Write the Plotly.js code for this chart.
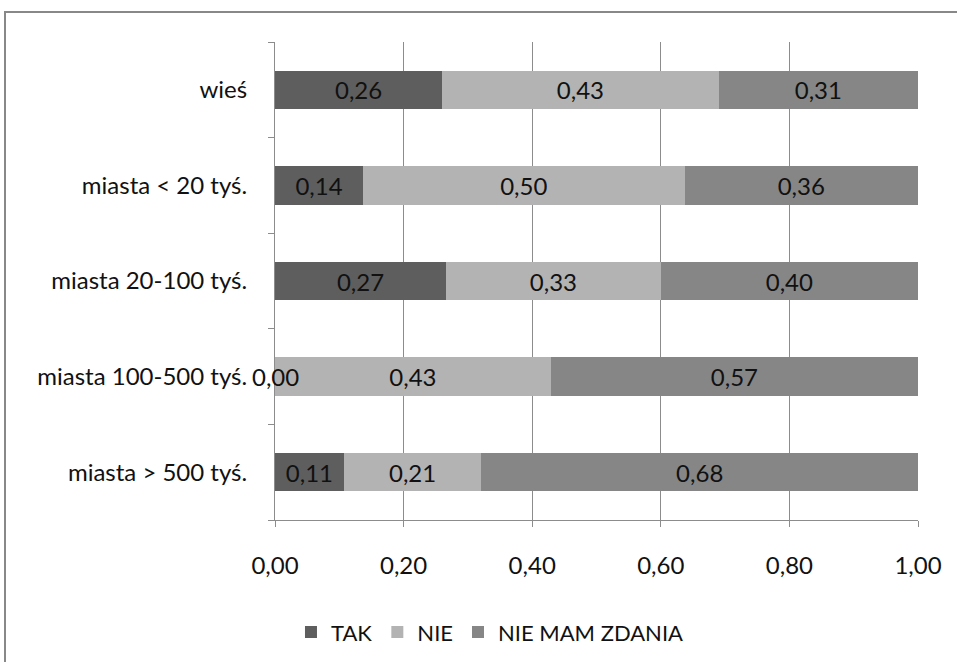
<!DOCTYPE html>
<html>
<head>
<meta charset="utf-8">
<script src="https://cdn.plot.ly/plotly-3.0.1.min.js"></script>
<style>
html,body{margin:0;padding:0;background:#fff;}
#chart{width:957px;height:662px;position:absolute;left:0;top:0;}
#frame{position:absolute;left:4px;top:11px;width:1200px;height:900px;border-left:2px solid #888;border-top:2px solid #888;pointer-events:none;}
</style>
</head>
<body>
<div id="chart"></div>
<div id="frame"></div>
<script>
const categories = ['miasta > 500 tyś.', 'miasta 100-500 tyś.', 'miasta 20-100 tyś.', 'miasta < 20 tyś.', 'wieś'];
const seriesNames = ['TAK', 'NIE', 'NIE MAM ZDANIA'];
const tak = [0.107, 0.00, 0.266, 0.137, 0.26];
const nie = [0.214, 0.429, 0.334, 0.50, 0.43];
const nieMam = [0.679, 0.571, 0.40, 0.363, 0.31];
const xTicks = [0, 0.2, 0.4, 0.6, 0.8, 1.0];
const colors = ['#5e5e5e', '#b3b3b3', '#868686'];

const FONT = 'Lato, "Open Sans", sans-serif';
const allSeries = [tak, nie, nieMam];

const traces = allSeries.map((vals, i) => ({
  type: 'bar',
  orientation: 'h',
  name: seriesNames[i],
  x: vals,
  y: categories,
  marker: {color: colors[i], line: {width: 0}},
  texttemplate: '%{x:.2f}',
  textposition: 'inside',
  insidetextanchor: 'middle',
  constraintext: 'none',
  textfont: {family: FONT, size: 24, color: '#111'},
  hoverinfo: 'x+name'
}));

// labels for zero-width segments (not drawn inside a bar)
const annotations = [];
allSeries.forEach((vals, i) => {
  vals.forEach((v, j) => {
    if (v === 0) {
      let offset = 0;
      for (let k = 0; k < i; k++) offset += allSeries[k][j];
      annotations.push({
        x: offset + v / 2, y: categories[j], xref: 'x', yref: 'y',
        text: v.toFixed(2).replace('.', ','), showarrow: false,
        xanchor: 'center', font: {family: FONT, size: 24, color: '#111'}
      });
    }
  });
});

const layout = {
  width: 957, height: 662,
  barmode: 'stack',
  bargap: 0.6,
  separators: ', ',
  paper_bgcolor: 'rgba(0,0,0,0)',
  plot_bgcolor: 'rgba(0,0,0,0)',
  margin: {l: 275, r: 39, t: 42, b: 142, pad: 0},
  font: {family: FONT, size: 24, color: '#111'},
  showlegend: true,
  legend: {
    orientation: 'h', xref: 'container', yref: 'container',
    x: 0.512, xanchor: 'center', y: 0.045, yanchor: 'middle',
    font: {family: FONT, size: 22, color: '#111'},
    traceorder: 'normal', itemwidth: 30
  },
  xaxis: {
    range: [0, 1],
    tickvals: xTicks,
    tickformat: '.2f',
    showgrid: true, gridcolor: '#8c8c8c', gridwidth: 1,
    zeroline: false,
    showline: true, linecolor: '#8c8c8c', linewidth: 1,
    ticks: 'outside', ticklen: 6, tickcolor: '#8c8c8c',
    ticklabelstandoff: 18,
    tickfont: {family: FONT, size: 24, color: '#111'},
    fixedrange: true
  },
  yaxis: {
    type: 'category',
    categoryorder: 'array', categoryarray: categories,
    showgrid: false, zeroline: false,
    showline: true, linecolor: '#8c8c8c', linewidth: 1,
    ticks: 'outside', tickson: 'boundaries', ticklen: 6, tickcolor: '#8c8c8c',
    ticklabelstandoff: 22,
    tickfont: {family: FONT, size: 24, color: '#111'},
    fixedrange: true
  },
  annotations: annotations
};

Plotly.newPlot('chart', traces, layout, {displayModeBar: false, staticPlot: true});
</script>
</body>
</html>
